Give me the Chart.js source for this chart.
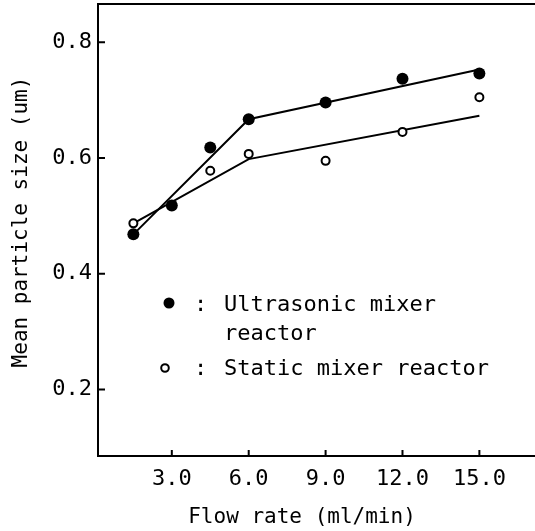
<!DOCTYPE html>
<html lang="en">
<head>
<meta charset="UTF-8">
<title>Mean particle size vs flow rate</title>
<script src="https://cdn.jsdelivr.net/npm/chart.js"></script>
<style>
    body { margin: 0; background: #fff; overflow: hidden; }
    #wrap { width: 535px; height: 531px; }
    canvas { display: block; }
</style>
</head>
<body>
<div id="wrap">
    <canvas id="chartParticle" width="535" height="531"></canvas>
</div>

<script>
// flow rate (ml/min)
const flowRate = [1.5, 3.0, 4.5, 6.0, 9.0, 12.0, 15.0];
const flowRateStatic = [1.5, 4.5, 6.0, 9.0, 12.0, 15.0];

// mean particle size (um)
const ultrasonic = [0.468, 0.518, 0.618, 0.667, 0.696, 0.737, 0.746];
const staticMixer = [0.487, 0.578, 0.607, 0.595, 0.645, 0.705];

// fitted lines (break at 6.0 ml/min)
const fitX = [1.5, 6.0, 15.0];
const fitUltrasonic = [0.468, 0.667, 0.753];
const fitStatic = [0.487, 0.598, 0.673];

const xTicks = [3.0, 6.0, 9.0, 12.0, 15.0];
const yTicks = [0.2, 0.4, 0.6, 0.8];

const FONT = 'DejaVu Sans Mono';

function pts(xs, ys) {
    return xs.map((x, i) => ({ x: x, y: ys[i] }));
}

function noPad(scale) {
    scale.paddingTop = 0;
    scale.paddingBottom = 0;
    scale.paddingLeft = 0;
    scale.paddingRight = 0;
}

// inward ticks, top frame line, axis titles and the in-plot key
const framePlugin = {
    id: 'frame',
    afterDraw(chart) {
        const ctx = chart.ctx;
        const a = chart.chartArea;
        const sx = chart.scales.x;
        const sy = chart.scales.y;
        ctx.save();
        ctx.strokeStyle = '#000';
        ctx.lineWidth = 2;
        ctx.beginPath();
        ctx.moveTo(a.left, a.top);
        ctx.lineTo(a.right, a.top);
        xTicks.forEach(v => {
            const px = sx.getPixelForValue(v);
            ctx.moveTo(px, a.bottom);
            ctx.lineTo(px, a.bottom - 6);
        });
        yTicks.forEach(v => {
            const py = sy.getPixelForValue(v);
            ctx.moveTo(a.left, py);
            ctx.lineTo(a.left + 7, py);
        });
        ctx.stroke();

        ctx.fillStyle = '#000';
        ctx.textBaseline = 'middle';

        // axis titles
        ctx.font = '21px "' + FONT + '"';
        ctx.textAlign = 'center';
        ctx.fillText('Flow rate (ml/min)', 302, 518);
        ctx.save();
        ctx.translate(22, 222);
        ctx.rotate(-Math.PI / 2);
        ctx.fillText('Mean particle size (um)', 0, 0);
        ctx.restore();

        // key
        ctx.font = '22px "' + FONT + '"';
        ctx.textAlign = 'left';
        ctx.beginPath();
        ctx.arc(169, 303, 5.5, 0, Math.PI * 2);
        ctx.fill();
        ctx.fillText(':', 194, 305);
        ctx.fillText('Ultrasonic mixer', 224, 305);
        ctx.fillText('reactor', 224, 334);
        ctx.beginPath();
        ctx.lineWidth = 2;
        ctx.arc(165, 368, 3.8, 0, Math.PI * 2);
        ctx.stroke();
        ctx.fillText(':', 194, 369);
        ctx.fillText('Static mixer reactor', 224, 369);
        ctx.restore();
    }
};

const data = {
    datasets: [
        {
            label: 'Ultrasonic mixer reactor',
            data: pts(flowRate, ultrasonic),
            showLine: false,
            pointRadius: 6,
            pointBackgroundColor: '#000',
            pointBorderColor: '#000',
            pointBorderWidth: 0
        },
        {
            label: 'Static mixer reactor',
            data: pts(flowRateStatic, staticMixer),
            showLine: false,
            pointRadius: 4,
            pointBackgroundColor: '#fff',
            pointBorderColor: '#000',
            pointBorderWidth: 2
        },
        {
            label: 'fit ultrasonic',
            data: pts(fitX, fitUltrasonic),
            showLine: true,
            borderColor: '#000',
            borderWidth: 2,
            pointRadius: 0,
            tension: 0
        },
        {
            label: 'fit static',
            data: pts(fitX, fitStatic),
            showLine: true,
            borderColor: '#000',
            borderWidth: 2,
            pointRadius: 0,
            tension: 0
        }
    ]
};

const config = {
    type: 'scatter',
    data: data,
    options: {
        responsive: false,
        animation: false,
        layout: { autoPadding: false, padding: { top: 4, right: 0, left: 0, bottom: 0 } },
        plugins: {
            legend: { display: false },
            tooltip: { enabled: false }
        },
        scales: {
            x: {
                type: 'linear',
                min: 0.12,
                max: 17.17,
                afterBuildTicks: (scale) => { scale.ticks = xTicks.map(v => ({ value: v })); },
                afterFit: (scale) => { scale.height = 75; noPad(scale); },
                grid: { display: false, drawTicks: false },
                border: { display: true, color: '#000', width: 2 },
                ticks: {
                    color: '#000',
                    padding: 10,
                    maxRotation: 0,
                    font: { family: FONT, size: 22 },
                    callback: (v) => Number(v).toFixed(1)
                }
            },
            y: {
                type: 'linear',
                min: 0.085,
                max: 0.866,
                afterBuildTicks: (scale) => { scale.ticks = yTicks.map(v => ({ value: v })); },
                afterFit: (scale) => { scale.width = 98; noPad(scale); },
                grid: { display: false, drawTicks: false },
                border: { display: true, color: '#000', width: 2 },
                ticks: {
                    color: '#000',
                    padding: 6,
                    font: { family: FONT, size: 22 },
                    callback: (v) => Number(v).toFixed(1)
                }
            }
        }
    },
    plugins: [framePlugin]
};

const myChart = new Chart(
    document.getElementById('chartParticle'),
    config
);
</script>
</body>
</html>
